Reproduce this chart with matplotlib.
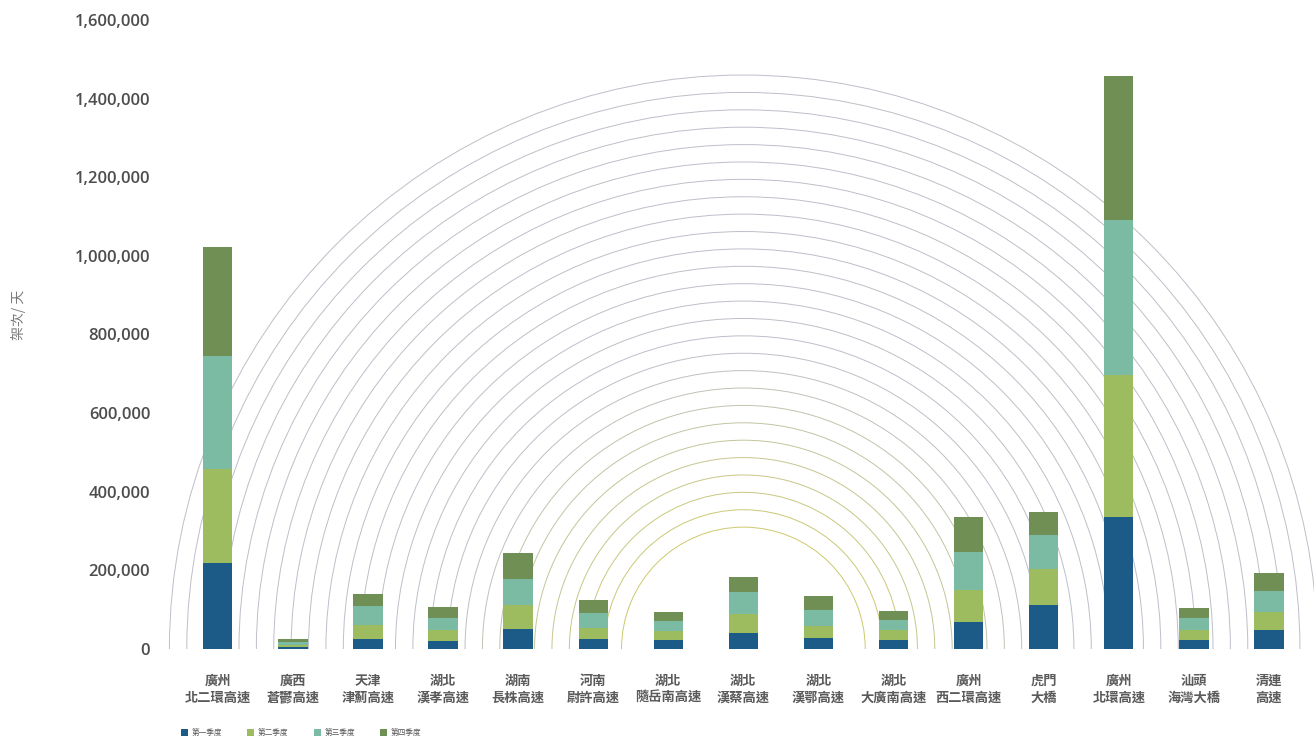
import matplotlib
matplotlib.use('Agg')
import matplotlib.pyplot as plt
from matplotlib.patches import Arc
from matplotlib.ticker import FuncFormatter
import numpy as np

plt.rcParams['font.family'] = ['Noto Sans CJK TC', 'DejaVu Sans']

# 各路段日均流量 (每季度)
regions = ['廣州', '廣西', '天津', '湖北', '湖南', '河南', '湖北', '湖北',
           '湖北', '湖北', '廣州', '虎門', '廣州', '汕頭', '清連']
roads = ['北二環高速', '蒼鬱高速', '津薊高速', '漢孝高速', '長株高速', '尉許高速',
         '隨岳南高速', '漢蔡高速', '漢鄂高速', '大廣南高速', '西二環高速', '大橋',
         '北環高速', '海灣大橋', '高速']

q1 = [218000, 4000, 26000, 20000, 51000, 26000, 24000, 41000, 28000, 24000,
      69000, 112000, 336000, 22000, 49000]
q2 = [240000, 7000, 36000, 28000, 60000, 28000, 23000, 48000, 31000, 24000,
      81000, 91000, 360000, 27000, 44000]
q3 = [288000, 8000, 47000, 32000, 67000, 38000, 25000, 55000, 41000, 25000,
      97000, 87000, 394000, 29000, 54000]
q4 = [277000, 7000, 32000, 27000, 66000, 32000, 23000, 39000, 34000, 23000,
      89000, 59000, 368000, 27000, 46000]

quarters = ['第一季度', '第二季度', '第三季度', '第四季度']
colors = ['#1c5b88', '#9dbb5f', '#7bbaa3', '#6f8f55']

yticks = np.arange(0, 1600001, 200000)

fig = plt.figure(figsize=(13.14, 7.45), dpi=100)
ax_rect = [178 / 1314, 96 / 745, 1136 / 1314, 629 / 745]
ax = fig.add_axes(ax_rect)

x = np.arange(len(roads))
xlim = (-0.53, 14.6)
ylim = (0, 1600000)
ax.set_xlim(*xlim)
ax.set_ylim(*ylim)

# background half rings, circular on screen
px_per_x = ax_rect[2] * 1314 / (xlim[1] - xlim[0])
px_per_y = ax_rect[3] * 745 / (ylim[1] - ylim[0])
ring_r = np.linspace(310000, 1460000, 27)
grey = np.array([0.74, 0.75, 0.79])
yellow = np.array([0.80, 0.79, 0.42])
for i, ry in enumerate(ring_r):
    t = min(i / 10.0, 1.0)
    c = yellow * (1 - t) + grey * t
    rx = ry * px_per_y / px_per_x
    ax.add_patch(Arc((7, 0), 2 * rx, 2 * ry, theta1=0, theta2=180,
                     color=c, lw=0.7, zorder=1, clip_on=False))

bottom = np.zeros(len(roads))
for vals, name, col in zip([q1, q2, q3, q4], quarters, colors):
    ax.bar(x, vals, width=0.39, bottom=bottom, color=col, label=name, zorder=3)
    bottom += np.array(vals)

ax.set_yticks(yticks)
ax.yaxis.set_major_formatter(FuncFormatter(lambda v, p: '{:,.0f}'.format(v)))
for lab in ax.get_yticklabels():
    lab.set_fontfamily(['Open Sans', 'DejaVu Sans'])
    lab.set_fontweight('semibold')
    lab.set_fontsize(12)
    lab.set_color('#4d4d4d')

ax.set_xticks(x)
ax.set_xticklabels([r + '\n' + d for r, d in zip(regions, roads)],
                   fontsize=9.5, color='#5a5a5a', fontweight='bold', linespacing=1.25)

ax.tick_params(axis='y', length=0, pad=20)
ax.tick_params(axis='x', length=0, pad=18)
for s in ax.spines.values():
    s.set_visible(False)

fig.text(18 / 1314, 1 - 315 / 745, '架次/ 天', rotation=90, ha='center', va='center',
         fontsize=10, color='#7a7a7a')

fig.legend(loc='center left', bbox_to_anchor=(177 / 1314, 1 - 733 / 745), ncol=4,
           frameon=False, fontsize=5.5, handlelength=0.9, handleheight=0.9,
           handletextpad=0.5, columnspacing=3.3, borderpad=0, labelcolor='#555555')

fig.savefig('out.png', dpi=100)
